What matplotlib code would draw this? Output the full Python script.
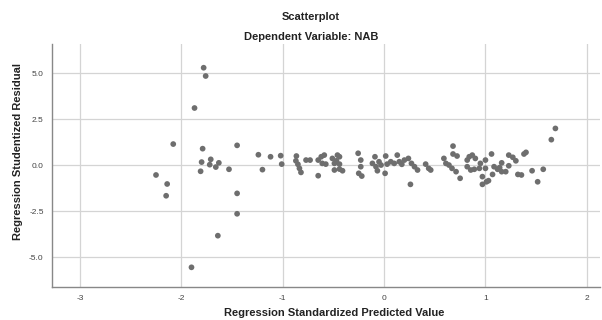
import matplotlib
matplotlib.use("Agg")
import matplotlib.pyplot as plt

# Regression standardized predicted values (x) and studentized residuals (y)
pred = [-2.25, -2.14, -2.15, -2.08, -1.78, -1.76, -1.87, -1.79, -1.45, -1.80,
        -1.71, -1.72, -1.63, -1.66, -1.81, -1.53, -1.45, -1.45, -1.64, -1.90,
        -1.24, -1.20, -1.12, -1.02, -1.01, -0.865, -0.87, -0.85, -0.835, -0.82,
        -0.77, -0.73, -0.65, -0.65, -0.62, -0.61, -0.575, -0.59, -0.51, -0.49,
        -0.46, -0.44, -0.47, -0.44, -0.49, -0.44, -0.41, -0.256, -0.23, -0.23,
        -0.25, -0.22, -0.115, -0.09, -0.08, -0.066, -0.05, -0.03, 0.01, 0.016,
        0.03, 0.066, 0.10, 0.13, 0.15, 0.175, 0.20, 0.24, 0.27, 0.30,
        0.33, 0.26, 0.41, 0.44, 0.46, 0.59, 0.61, 0.64, 0.67, 0.68,
        0.68, 0.72, 0.71, 0.75, 0.82, 0.84, 0.87, 0.90, 0.82, 0.855,
        0.89, 0.94, 0.95, 0.97, 1.00, 1.00, 1.01, 1.06, 1.03, 0.97,
        1.07, 1.085, 1.12, 1.14, 1.16, 1.16, 1.20, 1.23, 1.23, 1.27,
        1.30, 1.32, 1.355, 1.38, 1.40, 1.46, 1.515, 1.57, 1.65, 1.69]
resid = [-0.54, -1.03, -1.67, 1.14, 5.29, 4.84, 3.10, 0.89, 1.07, 0.16,
         0.31, 0.02, 0.12, -0.11, -0.34, -0.23, -1.54, -2.65, -3.84, -5.56,
         0.56, -0.25, 0.45, 0.51, 0.05, 0.49, 0.23, 0.04, -0.18, -0.40,
         0.27, 0.27, -0.58, 0.27, 0.45, 0.09, 0.05, 0.54, 0.36, 0.09,
         0.54, 0.45, 0.23, 0.05, -0.27, -0.22, -0.31, 0.64, 0.27, -0.09,
         -0.45, -0.60, 0.09, 0.45, -0.09, -0.31, 0.18, 0.00, -0.45, 0.49,
         0.05, 0.18, 0.09, 0.54, 0.18, 0.04, 0.27, 0.36, 0.09, -0.09,
         -0.27, -1.05, 0.05, -0.18, -0.27, 0.36, 0.09, 0.00, -0.18, 1.03,
         0.60, 0.49, -0.36, -0.72, 0.27, 0.45, 0.54, 0.36, -0.09, -0.27,
         -0.23, -0.18, 0.09, -0.63, -0.18, 0.27, -0.91, 0.60, -0.85, -1.05,
         -0.51, -0.09, -0.23, -0.14, 0.12, -0.36, -0.36, -0.04, 0.54, 0.42,
         0.23, -0.51, -0.54, 0.60, 0.69, -0.31, -0.91, -0.23, 1.38, 1.99]

xticks = [-3, -2, -1, 0, 1, 2]
yticks = [5.0, 2.5, 0.0, -2.5, -5.0]
title1 = "Scatterplot"
title2 = "Dependent Variable: NAB"
xlabel = "Regression Standardized Predicted Value"
ylabel = "Regression Studentized Residual"

plt.rcParams['font.family'] = ['Liberation Sans', 'DejaVu Sans']

fig = plt.figure(figsize=(6.02, 3.20), dpi=100)
ax = fig.add_axes([52/602, 1-287/320, 548/602, (287-44)/320])

ax.scatter(pred, resid, s=17, color='#6e6e6e', edgecolors='none', zorder=3)

ax.set_xlim(-3.276, 2.13)
ax.set_ylim(-6.63, 6.58)
ax.set_xticks(xticks)
ax.set_xticklabels([str(t) for t in xticks])
ax.set_yticks(yticks)
ax.set_yticklabels([f"{t:.1f}" for t in yticks])
ax.grid(True, color='#d4d4d4', linewidth=0.9, zorder=0)
ax.set_axisbelow(True)
for side in ['top', 'right']:
    ax.spines[side].set_visible(False)
for side in ['left', 'bottom']:
    ax.spines[side].set_color('#888888')
    ax.spines[side].set_linewidth(1.0)
ax.tick_params(length=0, labelsize=6, colors='#444444', pad=6)

fig.text(311/602, 1-17/320, title1, ha='center', va='center', fontsize=8, fontweight='bold', color='#222222')
fig.text(311/602, 1-37/320, title2, ha='center', va='center', fontsize=8, fontweight='bold', color='#222222')
fig.text(334/602, 1-313/320, xlabel, ha='center', va='center', fontsize=8, fontweight='bold', color='#222222')
fig.text(18/602, 1-152/320, ylabel, ha='center', va='center', rotation=90, fontsize=8, fontweight='bold', color='#222222')

fig.savefig("out.png", dpi=100)
